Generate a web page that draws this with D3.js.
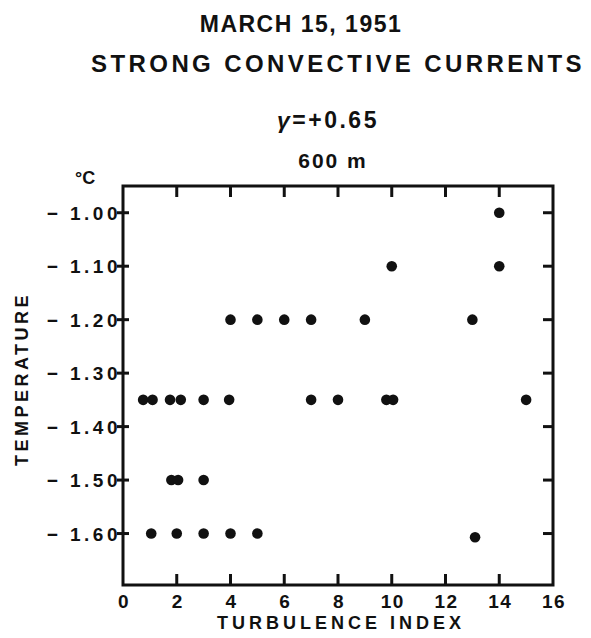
<!DOCTYPE html>
<html>
<head>
<meta charset="utf-8">
<script src="https://cdn.jsdelivr.net/npm/d3@7"></script>
<style>
  body { margin: 0; background: #fff; }
  text { font-family: "Liberation Sans", Arial, sans-serif; font-weight: bold; fill: #111; }
</style>
</head>
<body>
<script>
// readings from the plot, one entry per dot
const turbulence = [14, 10, 14, 4, 5, 6, 7, 9, 13,
    0.75, 1.1, 1.75, 2.15, 3, 3.95, 7, 8, 9.8, 10.05, 15,
    1.8, 2.05, 3, 1.05, 2, 3, 4, 5, 13.1];
const temperature = [-1.00, -1.10, -1.10, -1.20, -1.20, -1.20, -1.20, -1.20, -1.20,
    -1.35, -1.35, -1.35, -1.35, -1.35, -1.35, -1.35, -1.35, -1.35, -1.35, -1.35,
    -1.50, -1.50, -1.50, -1.60, -1.60, -1.60, -1.60, -1.60, -1.607];
const xTicks = [0, 2, 4, 6, 8, 10, 12, 14, 16];
const yTicks = [-1.00, -1.10, -1.20, -1.30, -1.40, -1.50, -1.60];

const width = 591, height = 638;
const svg = d3.select("body").append("svg")
    .attr("width", width)
    .attr("height", height);

const x = d3.scaleLinear().domain([0, 16]).range([123, 553]);
const y = d3.scaleLinear().domain([-0.95, -1.70]).range([186, 587]);
const plotTop = 186, plotBottom = 585;

const ink = "#111";

// titles
svg.append("text").attr("x", 301).attr("y", 32).attr("text-anchor", "middle")
    .style("font-size", "23px").style("letter-spacing", "1.5px").text("MARCH 15, 1951");
svg.append("text").attr("x", 338).attr("y", 72).attr("text-anchor", "middle")
    .style("font-size", "24px").style("letter-spacing", "3.4px").text("STRONG CONVECTIVE  CURRENTS");
const gam = svg.append("text").attr("x", 328).attr("y", 128).attr("text-anchor", "middle")
    .style("font-size", "23px").style("letter-spacing", "2.5px");
gam.append("tspan").style("font-style", "italic").text("γ");
gam.append("tspan").text("=+0.65");
svg.append("text").attr("x", 333).attr("y", 168).attr("text-anchor", "middle")
    .style("font-size", "21px").style("letter-spacing", "2px").text("600 m");
svg.append("text").attr("x", 75).attr("y", 184)
    .style("font-size", "18px").text("°C");

// frame
svg.append("rect")
    .attr("x", x(0)).attr("y", plotTop)
    .attr("width", x(16) - x(0)).attr("height", plotBottom - plotTop)
    .attr("fill", "none").attr("stroke", ink).attr("stroke-width", 3);

// left axis ticks cross the frame, others point inward
const g = svg.append("g").attr("stroke", ink).attr("stroke-width", 3);
g.selectAll(".yl").data(yTicks).join("line")
    .attr("x1", x(0) - 6).attr("x2", x(0) + 6)
    .attr("y1", d => y(d)).attr("y2", d => y(d));
g.selectAll(".yr").data(yTicks).join("line")
    .attr("x1", x(16) - 10).attr("x2", x(16))
    .attr("y1", d => y(d)).attr("y2", d => y(d));
const inner = xTicks.slice(1, -1);
g.selectAll(".xt").data(inner).join("line")
    .attr("x1", d => x(d)).attr("x2", d => x(d))
    .attr("y1", plotTop).attr("y2", plotTop + 11);
g.selectAll(".xb").data(inner).join("line")
    .attr("x1", d => x(d)).attr("x2", d => x(d))
    .attr("y1", plotBottom).attr("y2", plotBottom - 11);

// tick labels
svg.append("g").selectAll("text").data(xTicks).join("text")
    .attr("x", d => x(d) + 1).attr("y", 608)
    .attr("text-anchor", "middle")
    .style("font-size", "19px").style("letter-spacing", "1.5px")
    .text(d => d);
svg.append("g").selectAll("text").data(yTicks).join("text")
    .attr("x", 121).attr("y", d => y(d) + 7)
    .attr("text-anchor", "end")
    .style("font-size", "19px").style("letter-spacing", "3.5px")
    .text(d => "− " + d3.format(".2f")(-d));

// axis titles
svg.append("text").attr("x", 341).attr("y", 629).attr("text-anchor", "middle")
    .style("font-size", "18px").style("letter-spacing", "4px").text("TURBULENCE INDEX");
svg.append("text").attr("transform", "translate(28,379) rotate(-90)")
    .attr("text-anchor", "middle")
    .style("font-size", "18px").style("letter-spacing", "3.5px").text("TEMPERATURE");

// dots
svg.append("g").selectAll("circle").data(d3.range(turbulence.length)).join("circle")
    .attr("cx", i => x(turbulence[i]))
    .attr("cy", i => y(temperature[i]))
    .attr("r", 5.3)
    .attr("fill", ink);
</script>
</body>
</html>
